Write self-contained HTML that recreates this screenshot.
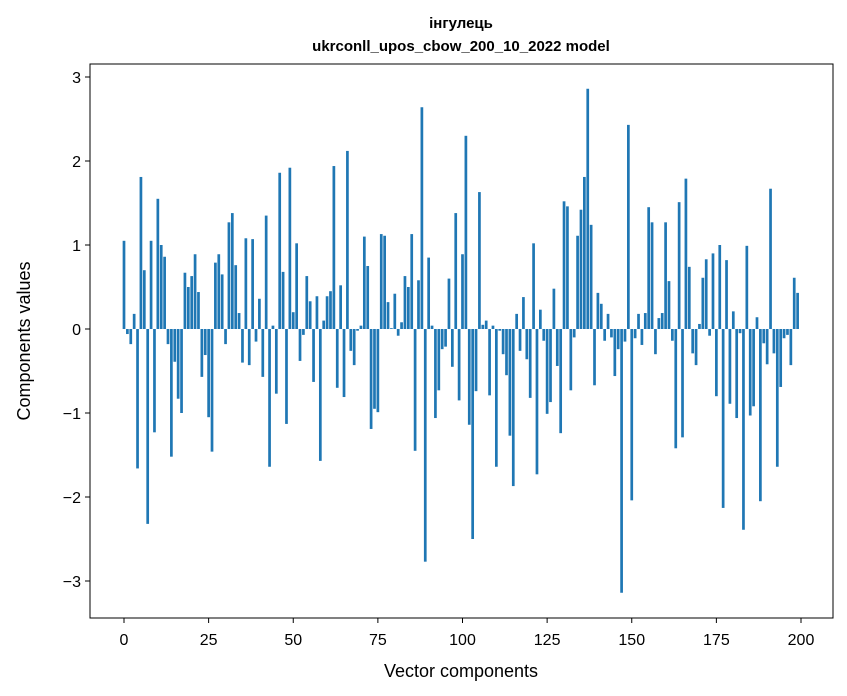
<!DOCTYPE html>
<html><head><meta charset="utf-8"><style>body{margin:0;background:#fff}svg{display:block;font-family:"Liberation Sans","DejaVu Sans",sans-serif}</style></head>
<body>
<svg id="chart" width="847" height="696">
<text x="461" y="28" text-anchor="middle" font-size="15" font-weight="bold">інгулець</text>
<text x="461" y="51" text-anchor="middle" font-size="15" font-weight="bold">ukrconll_upos_cbow_200_10_2022 model</text>
<g id="bars"></g>
<g id="axes"></g>
<rect x="90" y="64" width="743" height="554" fill="none" stroke="#000" stroke-width="1"/>
<text x="461" y="677" text-anchor="middle" font-size="18">Vector components</text>
<text transform="translate(30,341) rotate(-90)" text-anchor="middle" font-size="18">Components values</text>
</svg>
<script>
const values = [1.05,-0.06,-0.18,0.18,-1.66,1.81,0.70,-2.32,1.05,-1.23,1.55,1.0,0.86,-0.18,-1.52,-0.39,-0.83,-1.0,0.67,0.5,
0.63,0.89,0.44,-0.57,-0.31,-1.05,-1.46,0.79,0.89,0.65,-0.18,1.27,1.38,0.76,0.19,-0.40,1.08,-0.43,1.07,-0.15,
0.36,-0.57,1.35,-1.64,0.04,-0.77,1.86,0.68,-1.13,1.92,0.2,1.02,-0.38,-0.07,0.63,0.33,-0.63,0.39,-1.57,0.1,
0.39,0.45,1.94,-0.70,0.52,-0.81,2.12,-0.26,-0.43,-0.02,0.04,1.10,0.75,-1.19,-0.95,-0.99,1.13,1.11,0.32,0.01,
0.42,-0.08,0.08,0.63,0.5,1.13,-1.45,0.58,2.64,-2.77,0.85,0.04,-1.06,-0.73,-0.24,-0.21,0.6,-0.45,1.38,-0.85,
0.89,2.30,-1.14,-2.5,-0.74,1.63,0.05,0.1,-0.79,0.04,-1.64,-0.02,-0.30,-0.55,-1.27,-1.87,0.18,-0.26,0.38,-0.36,
-0.82,1.02,-1.73,0.23,-0.14,-1.01,-0.87,0.48,-0.44,-1.24,1.52,1.46,-0.73,-0.1,1.11,1.42,1.81,2.86,1.24,-0.67,
0.43,0.30,-0.14,0.18,-0.1,-0.56,-0.24,-3.14,-0.15,2.43,-2.04,-0.11,0.18,-0.19,0.19,1.45,1.27,-0.30,0.13,0.19,
1.27,0.57,-0.14,-1.42,1.51,-1.29,1.79,0.74,-0.29,-0.43,0.06,0.61,0.83,-0.08,0.90,-0.80,1.0,-2.13,0.82,-0.89,
0.21,-1.06,-0.05,-2.39,0.99,-1.03,-0.92,0.14,-2.05,-0.17,-0.42,1.67,-0.29,-1.64,-0.69,-0.11,-0.07,-0.43,0.61,0.43];
const xTicks = [0,25,50,75,100,125,150,175,200];
const yTicks = [-3,-2,-1,0,1,2,3];
const NS='http://www.w3.org/2000/svg';
const xs = v => 124 + v*(677/200);
const ys = v => 329 - v*84;
const bars=document.getElementById('bars');
const bw=0.8*677/200;
values.forEach((v,i)=>{
  const r=document.createElementNS(NS,'rect');
  
  
  r.setAttribute('x',xs(i)-bw/2);
  r.setAttribute('y',Math.min(ys(v),ys(0)));
  r.setAttribute('width',bw);
  r.setAttribute('height',Math.abs(ys(v)-ys(0)));
  r.setAttribute('fill','#1f77b4');
  bars.appendChild(r);
});
const axes=document.getElementById('axes');
xTicks.forEach(t=>{
  const l=document.createElementNS(NS,'line');
  
  
  l.setAttribute('x1',xs(t));l.setAttribute('x2',xs(t));l.setAttribute('y1',618);l.setAttribute('y2',623);l.setAttribute('stroke','#000');
  axes.appendChild(l);
  const tx=document.createElementNS(NS,'text');
  
  
  tx.setAttribute('x',xs(t));tx.setAttribute('y',645);tx.setAttribute('text-anchor','middle');tx.setAttribute('font-size','16');
  tx.textContent=t;axes.appendChild(tx);
});
yTicks.forEach(t=>{
  const l=document.createElementNS(NS,'line');
  
  
  l.setAttribute('x1',85);l.setAttribute('x2',90);l.setAttribute('y1',ys(t));l.setAttribute('y2',ys(t));l.setAttribute('stroke','#000');
  axes.appendChild(l);
  const tx=document.createElementNS(NS,'text');
  
  
  tx.setAttribute('x',81);tx.setAttribute('y',ys(t)+6);tx.setAttribute('text-anchor','end');tx.setAttribute('font-size','16');
  tx.textContent=t<0?'\u2212'+Math.abs(t):String(t);axes.appendChild(tx);
});
</script>
</body></html>
